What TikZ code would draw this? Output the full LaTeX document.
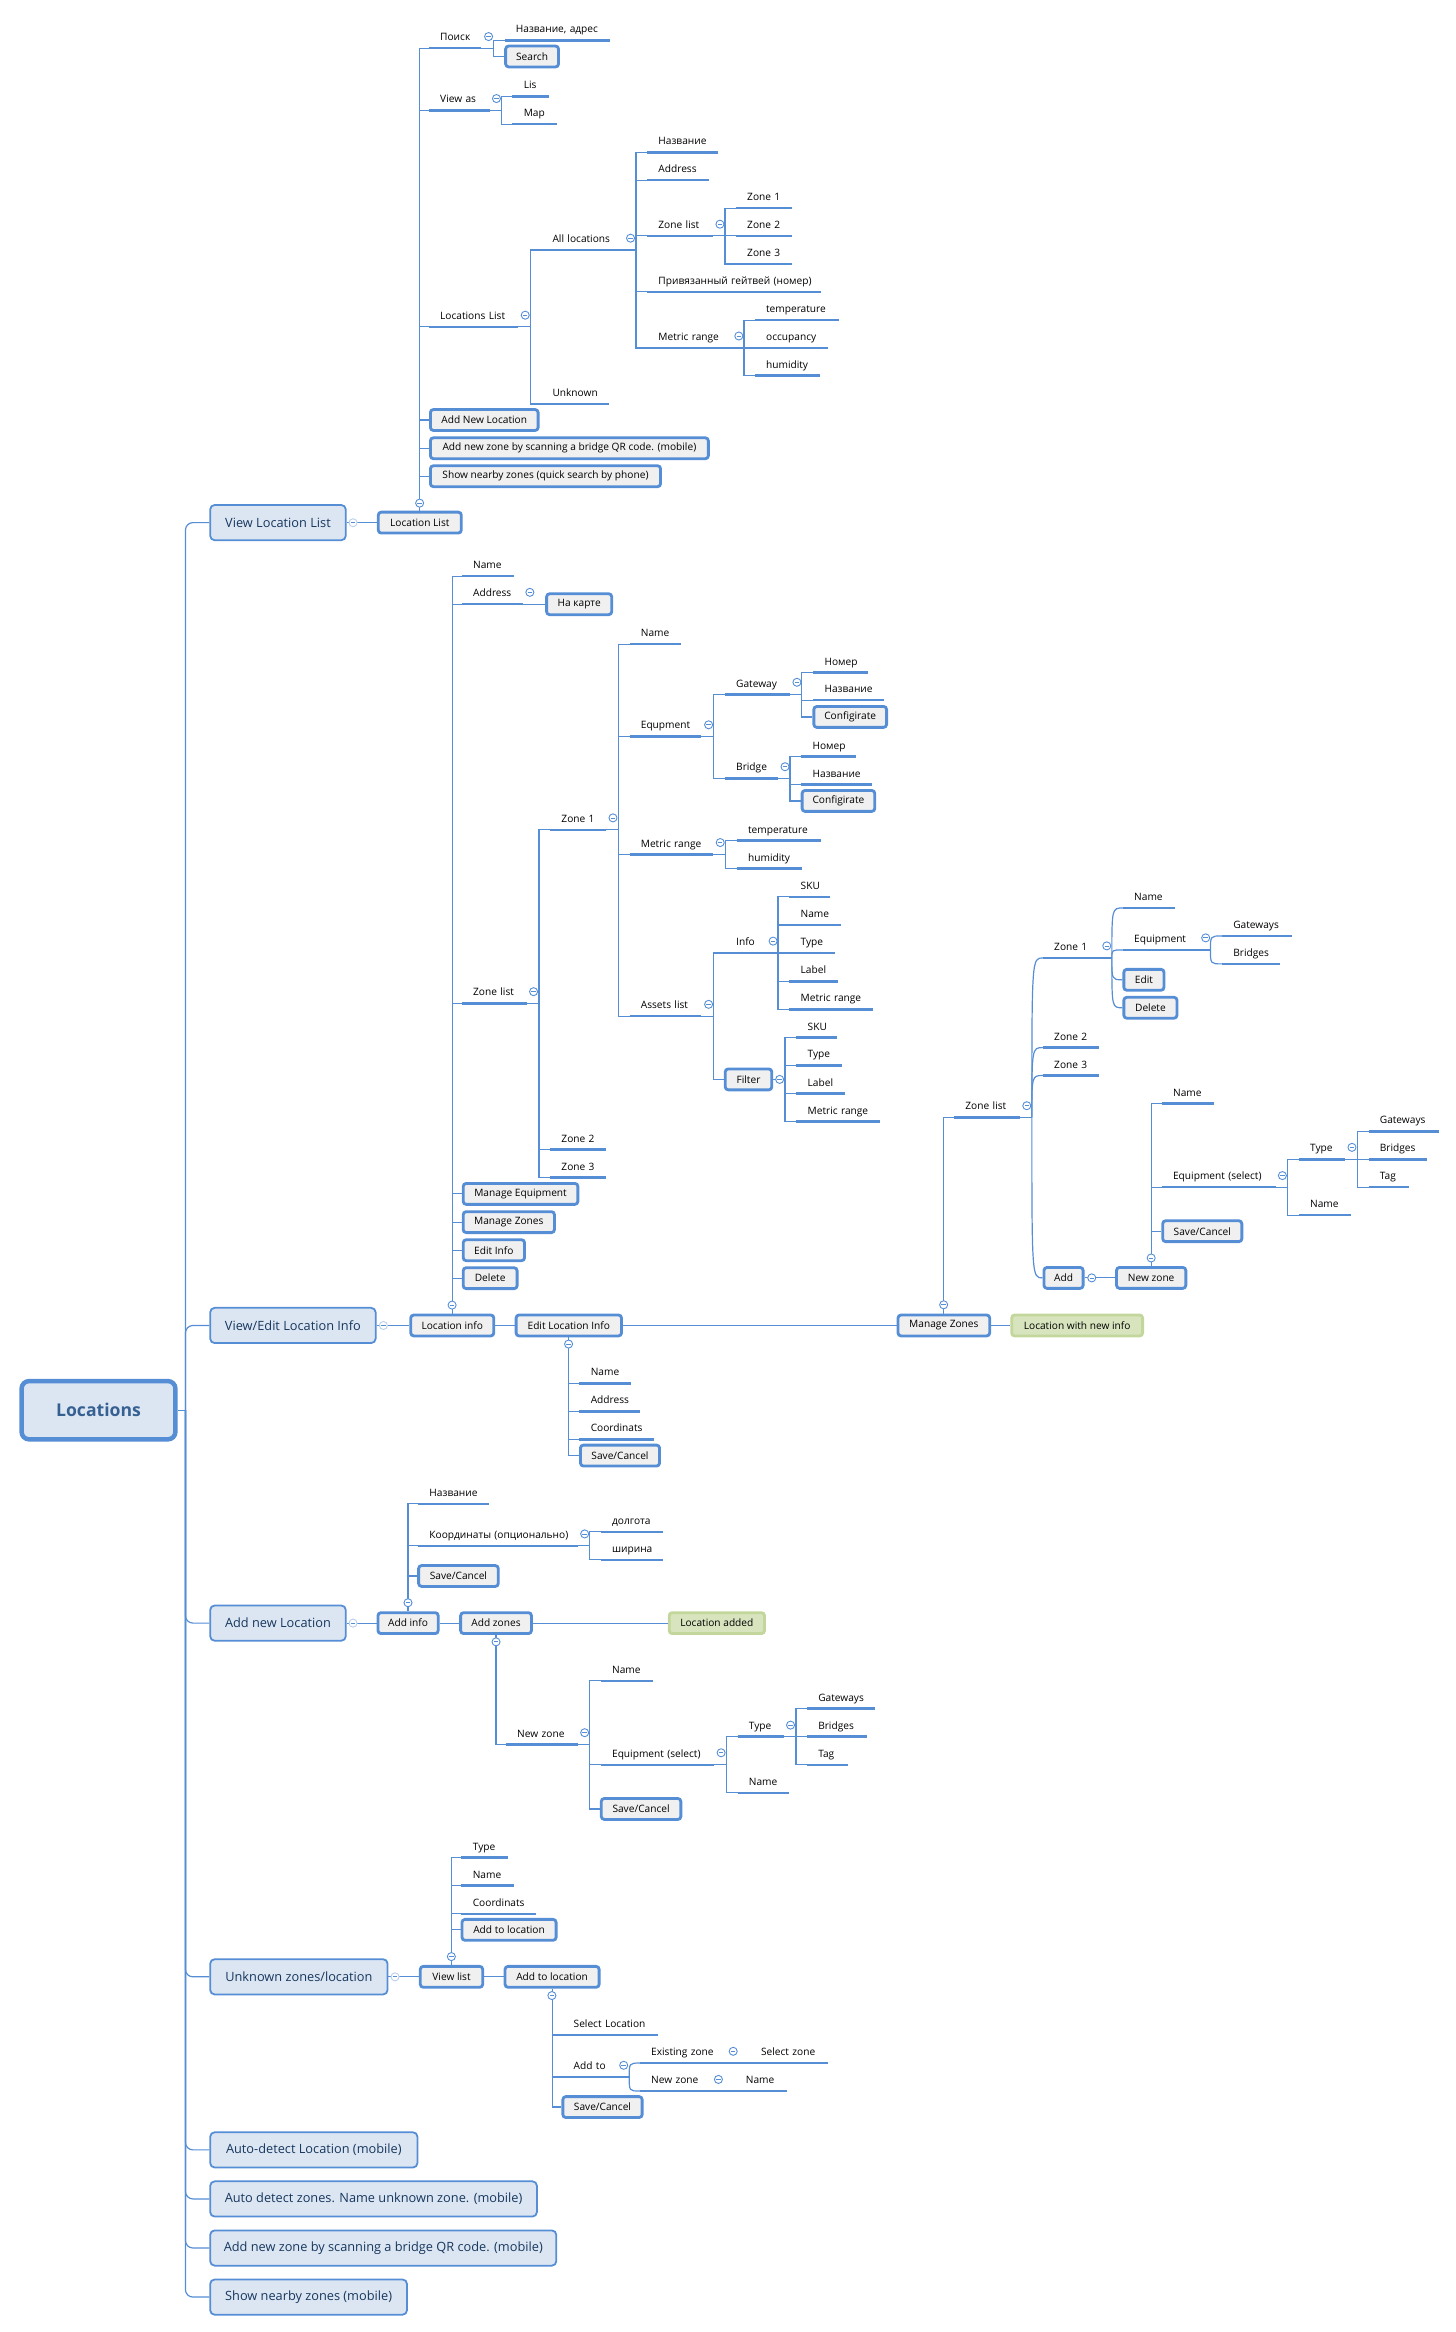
\documentclass[tikz,border=0pt]{standalone}
\usepackage{fontspec}
\setmainfont{Open Sans}
\definecolor{xblue}{HTML}{558ED5}
\definecolor{xpale}{HTML}{B9CFEE}
\definecolor{xtopic}{HTML}{DCE6F2}
\definecolor{xbtn}{HTML}{F0F0F0}
\definecolor{xgreen}{HTML}{D7E4BD}
\definecolor{xgreenb}{HTML}{C3D69B}
\definecolor{xnavy}{HTML}{17375E}
\definecolor{xroot}{HTML}{366092}
\tikzset{
	link/.style={draw=xblue,line width=0.8},
	uline/.style={draw=xblue,line width=1.7},
	leaf/.style={anchor=south west,inner xsep=0,inner ysep=0,text width=#1pt,align=left,
		text height=6pt,text depth=4.8pt,font=\fontsize{6.8}{8}\selectfont,
		execute at begin node={\hspace*{7.4pt}},
		append after command={(\tikzlastnode.south west) edge[uline] (\tikzlastnode.south east)}},
	btn/.style={anchor=west,draw=xblue,fill=xbtn,line width=1.9,rounded corners=2,inner sep=0,
		minimum width={#1pt-1.9pt},minimum height=14,font=\fontsize{6.8}{8}\selectfont},
	done/.style={btn=#1,draw=xgreenb,fill=xgreen},
	topic/.style={anchor=west,draw=xblue,fill=xtopic,line width=1.2,rounded corners=3,inner sep=0,
		minimum width={#1pt-1.2pt},minimum height=23.6,text=xnavy,font=\fontsize{8.55}{10}\selectfont},
	rootbox/.style={anchor=west,draw=xblue,fill=xtopic,line width=3,rounded corners=5,inner sep=0,
		minimum width=103,minimum height=39,text=xroot,font=\fontsize{11.8}{14}\bfseries\selectfont},
	fold/.style={circle,draw=xblue,fill=white,line width=0.6,inner sep=0,minimum size=5.4,
		path picture={\draw[draw=xblue,line width=0.5] ([xshift=-1.5pt]path picture bounding box.center) -- ([xshift=1.5pt]path picture bounding box.center);}},
	foldpale/.style={fold,draw=xpale},
}
\begin{document}
\begin{tikzpicture}[x=0.9975pt,y=-0.9956pt]
	\useasboundingbox (0,0) rectangle (977.44,1568.5);
	% main topics
	\node[rootbox] (Root) at (13,948.5) {Locations};
	\node[topic=92] (ViewLL) at (140.5,351.5) {View Location List};
	\node[topic=112] (ViewEdit) at (140.5,891.5) {View/Edit Location Info};
	\node[topic=92] (AddNew) at (140.5,1091.7) {Add new Location};
	\node[topic=120] (Unknown) at (140.5,1329.6) {Unknown zones/location};
	\node[topic=140] (AutoLoc) at (140.5,1446) {Auto-detect Location (mobile)};
	\node[topic=220] (AutoZone) at (140.5,1479) {Auto detect zones. Name unknown zone. (mobile)};
	\node[topic=233] (ScanZone) at (140.5,1512) {Add new zone by scanning a bridge QR code. (mobile)};
	\node[topic=133] (Nearby) at (140.5,1545) {Show nearby zones (mobile)};
	\coordinate (sRoot) at (124.5,948.5);
	% location list
	\node[btn=57.5] (LocList) at (253,351.5) {Location List};
	\node[leaf=34.4] (Poisk) at (287.9,32.4) {Поиск};
	\node[leaf=70] (PoiskName) at (338.7,27.1) {Название, адрес};
	\node[btn=37.3] (Search) at (338.5,38) {Search};
	\node[leaf=40.4] (ViewAs) at (287.9,74.2) {View as};
	\node[leaf=24] (Lis) at (344,64.8) {Lis};
	\node[leaf=29.3] (Map) at (344,83.5) {Map};
	\node[leaf=59.6] (LocsL) at (287.9,219.8) {Locations List};
	\node[leaf=55] (AllLoc) at (363.3,168.2) {All locations};
	\node[leaf=45] (UnkLoc) at (363.3,271.7) {Unknown};
	\node[leaf=47.3] (AllName) at (434.4,102.5) {Название};
	\node[leaf=40.8] (AllAddr) at (434.4,121.2) {Address};
	\node[leaf=43.5] (AllZones) at (434.4,158.6) {Zone list};
	\node[leaf=37.3] (AllZa) at (494,140) {Zone 1};
	\node[leaf=37.3] (AllZb) at (494,158.6) {Zone 2};
	\node[leaf=37.3] (AllZc) at (494,177.6) {Zone 3};
	\node[leaf=115.8] (AllGate) at (434.4,196.3) {Привязанный гейтвей (номер)};
	\node[leaf=56.2] (AllMetric) at (434.4,234) {Metric range};
	\node[leaf=56.1] (AllTemp) at (506.7,215.3) {temperature};
	\node[leaf=48.9] (AllOcc) at (506.7,234) {occupancy};
	\node[leaf=43.5] (AllHum) at (506.7,252.7) {humidity};
	\node[btn=74] (LocAdd) at (288,282.5) {Add New Location};
	\node[btn=188] (LocScan) at (288,301.5) {Add new zone by scanning a bridge QR code. (mobile)};
	\node[btn=156] (LocNear) at (288,320.3) {Show nearby zones (quick search by phone)};
	\coordinate (sPoisk) at (331.4,32.4);
	\coordinate (sViewAs) at (336.4,74.2);
	\coordinate (sLocsL) at (356,219.8);
	\coordinate (sAllLoc) at (427,168.2);
	\coordinate (sAllZones) at (486.7,158.6);
	\coordinate (sAllMetric) at (499.4,234);
	% location info
	\node[btn=57.5] (LocInfo) at (274.8,891.5) {Location info};
	\node[leaf=34.4] (InfoName) at (310,387.5) {Name};
	\node[leaf=40.4] (InfoAddr) at (310,406.4) {Address};
	\node[btn=45.5] (OnMap) at (366,406.4) {На карте};
	\node[leaf=43] (InfoZones) at (310,674.9) {Zone list};
	\node[leaf=37.1] (InfoZa) at (369.3,558.1) {Zone 1};
	\node[leaf=37.1] (InfoZb) at (369.3,773.3) {Zone 2};
	\node[leaf=37.1] (InfoZc) at (369.3,792) {Zone 3};
	\node[leaf=34.4] (ZaName) at (422.6,433.3) {Name};
	\node[leaf=47.8] (ZaEq) at (422.6,495.2) {Equpment};
	\node[leaf=43.1] (EqGate) at (486.6,467.2) {Gateway};
	\node[leaf=36.6] (GateNum) at (545.9,452.3) {Номер};
	\node[leaf=47.1] (GateName) at (545.9,470.9) {Название};
	\node[btn=50.6] (GateConf) at (545.4,482.2) {Configirate};
	\node[leaf=35.1] (EqBridge) at (486.6,523.5) {Bridge};
	\node[leaf=36.4] (BridgeNum) at (537.9,508.8) {Номер};
	\node[leaf=47.1] (BridgeName) at (537.9,527.7) {Название};
	\node[btn=50.6] (BridgeConf) at (537.5,538.7) {Configirate};
	\node[leaf=55.8] (ZaMetric) at (422.6,574.9) {Metric range};
	\node[leaf=55.7] (ZaTemp) at (494.6,565.3) {temperature};
	\node[leaf=43.1] (ZaHum) at (494.6,584.3) {humidity};
	\node[leaf=47.8] (ZaAssets) at (422.6,683.5) {Assets list};
	\node[leaf=27.1] (AsInfo) at (486.6,641) {Info};
	\node[leaf=27.1] (InfSku) at (529.9,603.2) {SKU};
	\node[leaf=34.4] (InfName) at (529.9,622.1) {Name};
	\node[leaf=30.4] (InfType) at (529.9,641) {Type};
	\node[leaf=32.4] (InfLabel) at (529.9,660) {Label};
	\node[leaf=55.7] (InfMetric) at (529.9,678.9) {Metric range};
	\node[btn=33.1] (AsFilter) at (485.9,726) {Filter};
	\node[leaf=27.1] (FilSku) at (534.6,697.9) {SKU};
	\node[leaf=30.4] (FilType) at (534.6,716.5) {Type};
	\node[leaf=32.4] (FilLabel) at (534.6,735.5) {Label};
	\node[leaf=55.7] (FilMetric) at (534.6,754.4) {Metric range};
	\node[btn=78.7] (InfoEq) at (310,803) {Manage Equipment};
	\node[btn=63] (InfoMz) at (310,822) {Manage Zones};
	\node[btn=43] (InfoEdit) at (310,840.9) {Edit Info};
	\node[btn=38] (InfoDel) at (310,859.7) {Delete};
	\coordinate (sInfoZones) at (361.8,674.9);
	\coordinate (sInfoZa) at (415.1,558.1);
	\coordinate (sZaEq) at (479,495.2);
	\coordinate (sEqGate) at (538.3,467.2);
	\coordinate (sEqBridge) at (530.3,523.5);
	\coordinate (sZaMetric) at (487,574.9);
	\coordinate (sZaAssets) at (479,683.5);
	\coordinate (sAsInfo) at (522.3,641);
	\coordinate (sAsFilter) at (527,726);
	% edit location info
	\node[btn=72.5] (EditLoc) at (345.5,891.5) {Edit Location Info};
	\node[leaf=34.4] (EditName) at (389,930.4) {Name};
	\node[leaf=40.3] (EditAddr) at (389,949.2) {Address};
	\node[leaf=49.7] (EditCoord) at (389,968.1) {Coordinats};
	\node[btn=54.9] (EditSave) at (388.7,979) {Save/Cancel};
	% manage zones
	\node[btn=63.3] (ManZones) at (601.9,891.5) {Manage Zones};
	\node[done=89.6] (ManDone) at (678.2,891.5) {Location with new info};
	\node[leaf=43.4] (ManList) at (640.5,751.5) {Zone list};
	\node[leaf=37.4] (ManZa) at (700.1,644.3) {Zone 1};
	\node[leaf=37.4] (ManZb) at (700.1,704.6) {Zone 2};
	\node[leaf=37.4] (ManZc) at (700.1,723.4) {Zone 3};
	\node[leaf=34.7] (ManName) at (753.8,610.7) {Name};
	\node[leaf=50.2] (ManEq) at (753.8,638.9) {Equipment};
	\node[leaf=46.7] (ManGate) at (820.3,629.5) {Gateways};
	\node[leaf=38.6] (ManBridge) at (820.3,648.3) {Bridges};
	\node[btn=28.8] (ManEdit) at (753.5,659) {Edit};
	\node[btn=37.5] (ManDel) at (753.5,677.8) {Delete};
	\node[btn=28.1] (ManAdd) at (699.9,859.5) {Add};
	\node[btn=48.3] (ManNew) at (748.6,859.5) {New zone};
	\node[leaf=34.7] (NewName) at (779.9,742.2) {Name};
	\node[leaf=75.8] (NewEq) at (779.9,798.5) {Equipment (select)};
	\node[leaf=30.6] (NewType) at (871.9,779.7) {Type};
	\node[leaf=46.8] (NewGate) at (918.7,760.9) {Gateways};
	\node[leaf=38.7] (NewBridge) at (918.7,779.7) {Bridges};
	\node[leaf=26.6] (NewTag) at (918.7,798.5) {Tag};
	\node[leaf=34.5] (NewEqName) at (871.9,817.3) {Name};
	\node[btn=54.9] (NewSave) at (779.6,828.1) {Save/Cancel};
	\coordinate (sManList) at (692.7,751.5);
	\coordinate (sManZa) at (746.4,644.3);
	\coordinate (sManEq) at (812.6,638.9);
	\coordinate (sNewEq) at (864.3,798.5);
	\coordinate (sNewType) at (911.1,779.7);
	% add new location
	\node[btn=42.2] (AddInfo) at (252.8,1091.7) {Add info};
	\node[leaf=47.3] (AddName) at (280.7,1011.5) {Название};
	\node[leaf=106.5] (AddCoord) at (280.7,1039.7) {Координаты (опционально)};
	\node[leaf=41.1] (AddLon) at (403.3,1030.3) {долгота};
	\node[leaf=41.1] (AddLat) at (403.3,1049.1) {ширина};
	\node[btn=55.2] (AddSave) at (280.1,1060) {Save/Cancel};
	\node[btn=49.3] (AddZones) at (308.3,1091.7) {Add zones};
	\node[done=65.7] (AddDone) at (448.3,1091.7) {Location added};
	\node[leaf=47.6] (AddZone) at (339.6,1173.5) {New zone};
	\node[leaf=34.6] (AzName) at (403.3,1130.5) {Name};
	\node[leaf=75.7] (AzEq) at (403.3,1187) {Equipment (select)};
	\node[leaf=30.5] (AzType) at (495.1,1168.1) {Type};
	\node[leaf=45.5] (AzGate) at (541.7,1149.3) {Gateways};
	\node[leaf=39.5] (AzBridge) at (541.7,1168.1) {Bridges};
	\node[leaf=27.3] (AzTag) at (541.7,1187) {Tag};
	\node[leaf=34.4] (AzEqName) at (495.1,1205.8) {Name};
	\node[btn=55.2] (AzSave) at (402.7,1216.7) {Save/Cancel};
	\coordinate (sAddCoord) at (396,1039.7);
	\coordinate (sAddZone) at (396,1173.5);
	\coordinate (sAzEq) at (487.5,1187);
	\coordinate (sAzType) at (534.3,1168.1);
	% unknown zones
	\node[btn=43.7] (ViewList) at (281.2,1329.6) {View list};
	\node[leaf=30.5] (UnkType) at (309.8,1249.5) {Type};
	\node[leaf=34.5] (UnkName) at (309.8,1268.3) {Name};
	\node[leaf=49.8] (UnkCoord) at (309.8,1287.2) {Coordinats};
	\node[btn=64.9] (UnkAdd) at (309.2,1298) {Add to location};
	\node[btn=64.9] (ToLoc) at (338.1,1329.6) {Add to location};
	\node[leaf=63.9] (ToSelect) at (377.5,1368.7) {Select Location};
	\node[leaf=36] (ToAdd) at (377.5,1397) {Add to};
	\node[leaf=57.5] (ToExist) at (429.5,1387.6) {Existing zone};
	\node[leaf=51.9] (ToExZone) at (503.3,1387.6) {Select zone};
	\node[leaf=47.3] (ToNew) at (429.5,1406.4) {New zone};
	\node[leaf=34.7] (ToNewName) at (493.1,1406.4) {Name};
	\node[btn=55] (ToSave) at (376.9,1417.2) {Save/Cancel};
	\coordinate (sToAdd) at (422.4,1397);
	% connectors
	\draw[link] (Root.east) -- (sRoot);
	\foreach \t in {ViewLL,ViewEdit,AddNew} \draw[link,rounded corners=5] (sRoot) |- (\t.west);
	\foreach \t in {Unknown,AutoLoc,AutoZone,ScanZone,Nearby} \draw[link,rounded corners=5] (sRoot) |- (\t.west);
	\draw[link] (ViewLL.east) -- (LocList.west);
	\foreach \c in {Poisk.south west,ViewAs.south west,LocsL.south west,LocAdd.west,LocScan.west,LocNear.west} \draw[link] (LocList.north) |- (\c);
	\foreach \c in {PoiskName.south west,Search.west} \draw[link] (Poisk.south east) -| (sPoisk) |- (\c);
	\foreach \c in {Lis,Map} \draw[link] (ViewAs.south east) -| (sViewAs) |- (\c.south west);
	\foreach \c in {AllLoc,UnkLoc} \draw[link] (LocsL.south east) -| (sLocsL) |- (\c.south west);
	\foreach \c in {AllName,AllAddr,AllZones,AllGate,AllMetric} \draw[link] (AllLoc.south east) -| (sAllLoc) |- (\c.south west);
	\foreach \c in {AllZa,AllZb,AllZc} \draw[link] (AllZones.south east) -| (sAllZones) |- (\c.south west);
	\foreach \c in {AllTemp,AllOcc,AllHum} \draw[link] (AllMetric.south east) -| (sAllMetric) |- (\c.south west);
	\draw[link] (ViewEdit.east) -- (LocInfo.west);
	\draw[link] (LocInfo.east) -- (EditLoc.west);
	\draw[link] (EditLoc.east) -- (ManZones.west);
	\draw[link] (ManZones.east) -- (ManDone.west);
	\foreach \c in {InfoName.south west,InfoAddr.south west,InfoZones.south west,InfoEq.west,InfoMz.west,InfoEdit.west,InfoDel.west} \draw[link] (LocInfo.north) |- (\c);
	\draw[link] (InfoAddr.south east) -- (OnMap.west);
	\foreach \c in {InfoZa,InfoZb,InfoZc} \draw[link] (InfoZones.south east) -| (sInfoZones) |- (\c.south west);
	\foreach \c in {ZaName,ZaEq,ZaMetric,ZaAssets} \draw[link] (InfoZa.south east) -| (sInfoZa) |- (\c.south west);
	\foreach \c in {EqGate,EqBridge} \draw[link] (ZaEq.south east) -| (sZaEq) |- (\c.south west);
	\foreach \c in {GateNum.south west,GateName.south west,GateConf.west} \draw[link] (EqGate.south east) -| (sEqGate) |- (\c);
	\foreach \c in {BridgeNum.south west,BridgeName.south west,BridgeConf.west} \draw[link] (EqBridge.south east) -| (sEqBridge) |- (\c);
	\foreach \c in {ZaTemp,ZaHum} \draw[link] (ZaMetric.south east) -| (sZaMetric) |- (\c.south west);
	\foreach \c in {AsInfo.south west,AsFilter.west} \draw[link] (ZaAssets.south east) -| (sZaAssets) |- (\c);
	\foreach \c in {InfSku,InfName,InfType,InfLabel,InfMetric} \draw[link] (AsInfo.south east) -| (sAsInfo) |- (\c.south west);
	\foreach \c in {FilSku,FilType,FilLabel,FilMetric} \draw[link] (AsFilter.east) -| (sAsFilter) |- (\c.south west);
	\foreach \c in {EditName.south west,EditAddr.south west,EditCoord.south west,EditSave.west} \draw[link] (EditLoc.south) |- (\c);
	\draw[link] (ManZones.north) |- (ManList.south west);
	\draw[link] (ManList.south east) -- (sManList);
	\foreach \c in {ManZa.south west,ManZb.south west,ManZc.south west,ManAdd.west} \draw[link] (sManList) .. controls (sManList |- \c) .. (\c);
	\draw[link] (ManZa.south east) -- (sManZa);
	\foreach \c in {ManName.south west,ManEq.south west,ManEdit.west,ManDel.west} \draw[link] (sManZa) .. controls (sManZa |- \c) .. (\c);
	\draw[link] (ManEq.south east) -- (sManEq);
	\foreach \c in {ManGate,ManBridge} \draw[link] (sManEq) .. controls (sManEq |- \c.south west) .. (\c.south west);
	\draw[link] (ManAdd.east) -- (ManNew.west);
	\foreach \c in {NewName.south west,NewEq.south west,NewSave.west} \draw[link] (ManNew.north) |- (\c);
	\foreach \c in {NewType,NewEqName} \draw[link] (NewEq.south east) -| (sNewEq) |- (\c.south west);
	\foreach \c in {NewGate,NewBridge,NewTag} \draw[link] (NewType.south east) -| (sNewType) |- (\c.south west);
	\draw[link] (AddNew.east) -- (AddInfo.west);
	\draw[link] (AddInfo.east) -- (AddZones.west);
	\draw[link] (AddZones.east) -- (AddDone.west);
	\foreach \c in {AddName.south west,AddCoord.south west,AddSave.west} \draw[link] (AddInfo.north) |- (\c);
	\foreach \c in {AddLon,AddLat} \draw[link] (AddCoord.south east) -| (sAddCoord) |- (\c.south west);
	\draw[link] (AddZones.south) |- (AddZone.south west);
	\foreach \c in {AzName.south west,AzEq.south west,AzSave.west} \draw[link] (AddZone.south east) -| (sAddZone) |- (\c);
	\foreach \c in {AzType,AzEqName} \draw[link] (AzEq.south east) -| (sAzEq) |- (\c.south west);
	\foreach \c in {AzGate,AzBridge,AzTag} \draw[link] (AzType.south east) -| (sAzType) |- (\c.south west);
	\draw[link] (Unknown.east) -- (ViewList.west);
	\draw[link] (ViewList.east) -- (ToLoc.west);
	\foreach \c in {UnkType.south west,UnkName.south west,UnkCoord.south west,UnkAdd.west} \draw[link] (ViewList.north) |- (\c);
	\foreach \c in {ToSelect.south west,ToAdd.south west,ToSave.west} \draw[link] (ToLoc.south) |- (\c);
	\draw[link] (ToAdd.south east) -- (sToAdd);
	\foreach \c in {ToExist,ToNew} \draw[link] (sToAdd) .. controls (sToAdd |- \c.south west) .. (\c.south west);
	\draw[link] (ToExist.south east) -- (ToExZone.south west);
	\draw[link] (ToNew.south east) -- (ToNewName.south west);
	% collapse marks
	\node[foldpale] (fViewLL) at (237,351.6) {};
	\node[foldpale] (fViewEdit) at (257.4,891.5) {};
	\node[foldpale] (fAddNew) at (237,1091.7) {};
	\node[foldpale] (fUnknown) at (265.2,1329.6) {};
	\node[fold] (fLocList) at (281.7,338.4) {};
	\node[fold] (fPoisk) at (328,24.6) {};
	\node[fold] (fViewAs) at (333.3,66.3) {};
	\node[fold] (fLocsL) at (352.6,212) {};
	\node[fold] (fAllLoc) at (423.3,160.2) {};
	\node[fold] (fAllZones) at (483.3,150.8) {};
	\node[fold] (fAllMetric) at (496,226) {};
	\node[fold] (fLocInfo) at (303.5,877.8) {};
	\node[fold] (fInfoAddr) at (355.7,398.4) {};
	\node[fold] (fInfoZones) at (358.2,667) {};
	\node[fold] (fInfoZa) at (411.5,550.1) {};
	\node[fold] (fZaEq) at (475.7,487.5) {};
	\node[fold] (fEqGate) at (535,458.9) {};
	\node[fold] (fEqBridge) at (527,515.7) {};
	\node[fold] (fZaMetric) at (483.5,566.7) {};
	\node[fold] (fZaAssets) at (475.7,675.5) {};
	\node[fold] (fAsInfo) at (519,633) {};
	\node[fold] (fAsFilter) at (523.4,726) {};
	\node[fold] (fEditLoc) at (381.7,904) {};
	\node[fold] (fManZones) at (633.5,877.6) {};
	\node[fold] (fManList) at (689.3,743.7) {};
	\node[fold] (fManZa) at (743,636.2) {};
	\node[fold] (fManEq) at (809.4,630.8) {};
	\node[fold] (fManAdd) at (732.9,859.5) {};
	\node[fold] (fManNew) at (772.8,846.1) {};
	\node[fold] (fNewEq) at (860.9,790.7) {};
	\node[fold] (fNewType) at (907.6,771.7) {};
	\node[fold] (fAddInfo) at (273.9,1078) {};
	\node[fold] (fAddCoord) at (392.5,1031.7) {};
	\node[fold] (fAddZones) at (333,1104.3) {};
	\node[fold] (fAddZone) at (392.5,1165.4) {};
	\node[fold] (fAzEq) at (484.1,1178.9) {};
	\node[fold] (fAzType) at (530.7,1160.3) {};
	\node[fold] (fViewList) at (303,1316) {};
	\node[fold] (fToLoc) at (370.5,1342.2) {};
	\node[fold] (fToAdd) at (418.7,1389.1) {};
	\node[fold] (fToExist) at (492.2,1379.7) {};
	\node[fold] (fToNew) at (482.3,1398.6) {};
\end{tikzpicture}
\end{document}
